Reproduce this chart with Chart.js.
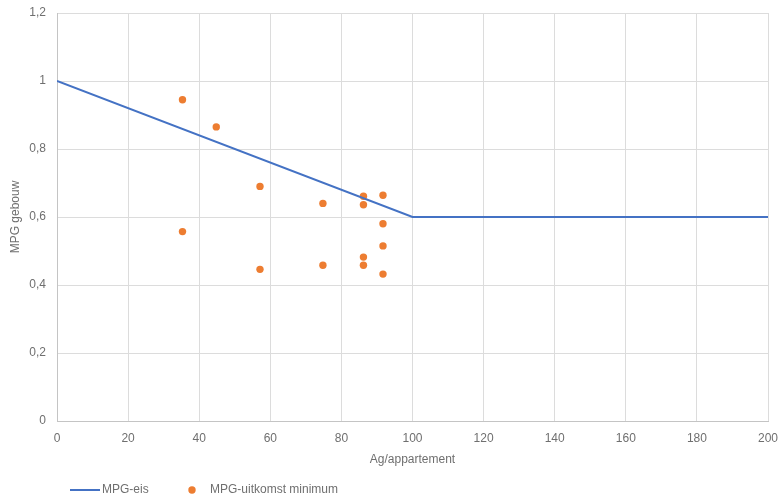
<!DOCTYPE html>
<html>
<head>
<meta charset="utf-8">
<script src="https://cdn.jsdelivr.net/npm/chart.js@4/dist/chart.umd.min.js"></script>
<style>
  html, body { margin: 0; padding: 0; background: #fff; }
  #wrap { width: 780px; height: 503px; }
</style>
</head>
<body>
<div id="wrap"><canvas id="mpgChart" width="780" height="503"></canvas></div>
<script>
// MPG-eis requirement line
const eisX = [0, 100, 200];
const eisY = [1.0, 0.6, 0.6];

// MPG-uitkomst minimum points
const uitX = [35.3, 44.8, 57.1, 74.8, 86.2, 86.2, 91.7, 91.7, 91.7, 91.7, 86.2, 86.2, 74.8, 57.1, 35.3];
const uitY = [0.945, 0.865, 0.690, 0.640, 0.661, 0.636, 0.664, 0.580, 0.515, 0.432, 0.482, 0.458, 0.458, 0.446, 0.557];

const seriesLabels = ['MPG-eis', 'MPG-uitkomst minimum'];
const xTitle = 'Ag/appartement';
const yTitle = 'MPG gebouw';

const textColor = '#6f6f6f';
const font = { family: '"Liberation Sans", Arial, sans-serif', size: 12 };

const toPoints = (xs, ys) => xs.map((x, i) => ({ x: x, y: ys[i] }));
const commaNum = (v) => String(Math.round(v * 10) / 10).replace('.', ',');

// simple legend in the bottom-left like the original
const bottomLegend = {
  id: 'bottomLegend',
  afterDraw(chart) {
    const ctx = chart.ctx;
    const ds = chart.data.datasets;
    const y = 490;
    ctx.save();
    ctx.font = font.size + 'px ' + font.family;
    ctx.textBaseline = 'middle';
    ctx.fillStyle = textColor;

    ctx.strokeStyle = ds[0].borderColor;
    ctx.lineWidth = 2;
    ctx.beginPath();
    ctx.moveTo(70, y);
    ctx.lineTo(100, y);
    ctx.stroke();
    ctx.fillText(ds[0].label, 102, y);

    ctx.fillStyle = ds[1].backgroundColor;
    ctx.beginPath();
    ctx.arc(192, y, 3.7, 0, Math.PI * 2);
    ctx.fill();
    ctx.fillStyle = textColor;
    ctx.fillText(ds[1].label, 210, y);
    ctx.restore();
  }
};

new Chart(document.getElementById('mpgChart').getContext('2d'), {
  type: 'scatter',
  data: {
    datasets: [
      {
        label: seriesLabels[0],
        data: toPoints(eisX, eisY),
        showLine: true,
        borderColor: '#4472c4',
        backgroundColor: '#4472c4',
        borderWidth: 2,
        pointRadius: 0,
        tension: 0,
      },
      {
        label: seriesLabels[1],
        data: toPoints(uitX, uitY),
        showLine: false,
        backgroundColor: '#ed7d31',
        borderColor: '#ed7d31',
        pointRadius: 3.7,
        pointBorderWidth: 0,
      },
    ],
  },
  options: {
    responsive: false,
    animation: false,
    layout: { padding: { top: 13, right: 12, bottom: 32, left: 0 } },
    plugins: {
      legend: { display: false },
      tooltip: { enabled: false },
    },
    scales: {
      x: {
        type: 'linear',
        min: 0,
        max: 200,
        ticks: { stepSize: 20, color: textColor, font: font, padding: 10, maxRotation: 0 },
        grid: { color: '#dcdcdc', drawTicks: false },
        border: { color: '#c4c4c4' },
        title: { display: true, text: xTitle, color: textColor, font: font, padding: { top: 4, bottom: 4 } },
        afterFit: (scale) => {
          scale.height = 50;
          scale.paddingLeft = 0;
          scale.paddingRight = 0;
        },
      },
      y: {
        min: 0,
        max: 1.2,
        ticks: { stepSize: 0.2, color: textColor, font: font, padding: 11, callback: commaNum },
        grid: { color: '#dcdcdc', drawTicks: false },
        border: { color: '#c4c4c4' },
        title: { display: true, text: yTitle, color: textColor, font: font, padding: { top: 8, bottom: 4 } },
        afterFit: (scale) => {
          scale.width = 57;
          scale.paddingTop = 0;
          scale.paddingBottom = 0;
        },
      },
    },
  },
  plugins: [bottomLegend],
});
</script>
</body>
</html>
